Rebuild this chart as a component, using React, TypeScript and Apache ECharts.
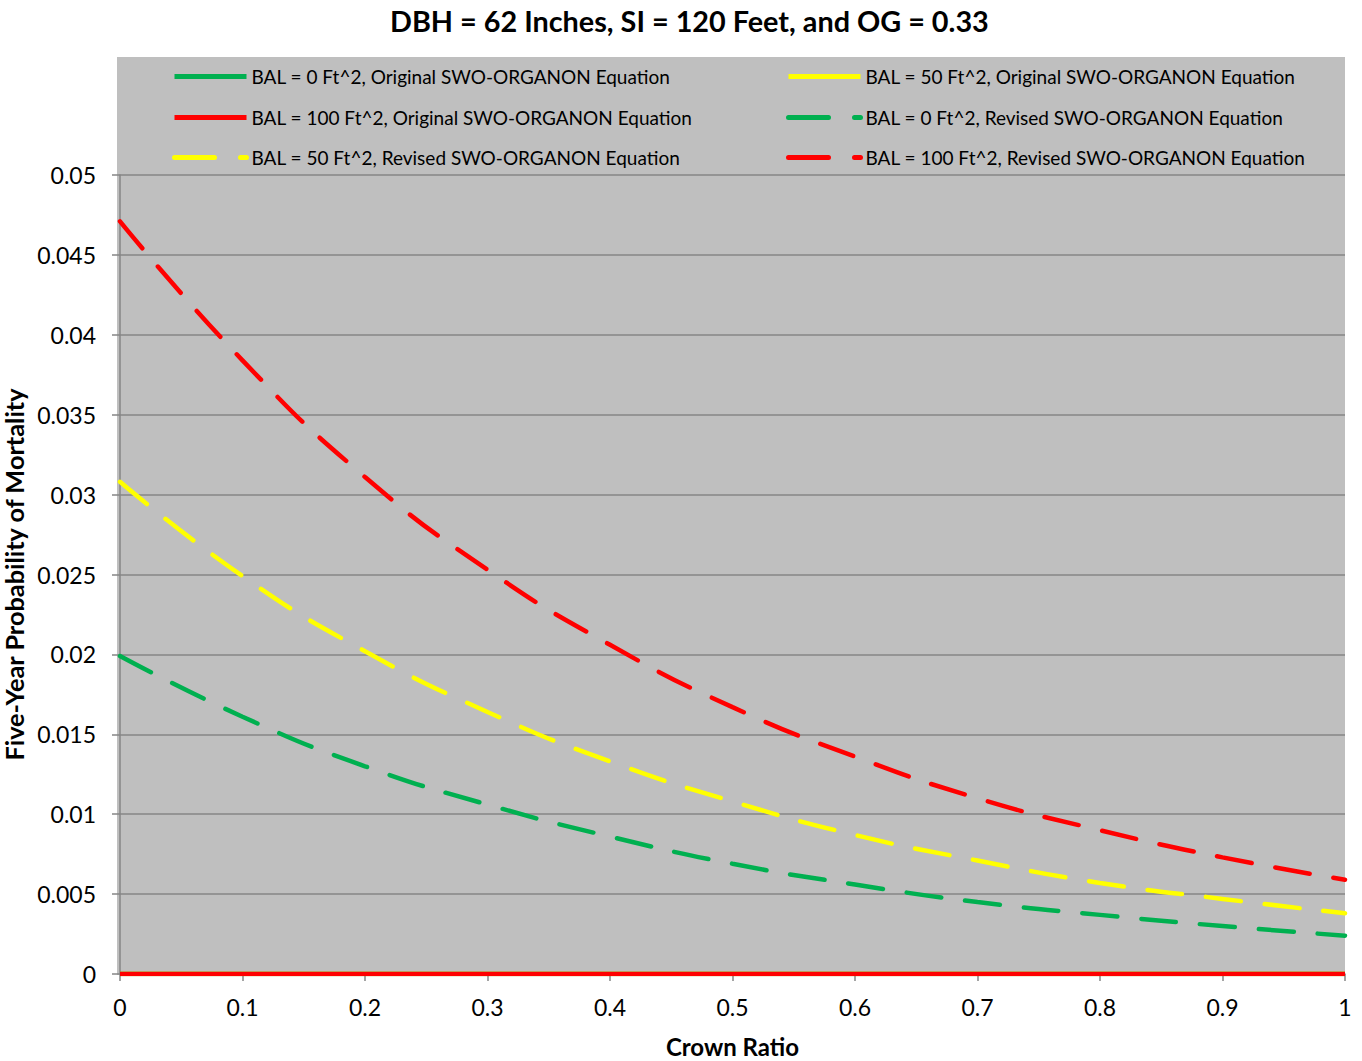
import React, { useEffect, useRef } from "react";
import * as echarts from "echarts";

const crownRatio = [0, 0.1, 0.2, 0.3, 0.4, 0.5, 0.6, 0.7, 0.8, 0.9, 1.0];

const originalBal0 = [0, 0, 0, 0, 0, 0, 0, 0, 0, 0, 0];
const originalBal50 = [0, 0, 0, 0, 0, 0, 0, 0, 0, 0, 0];
const originalBal100 = [0, 0, 0, 0, 0, 0, 0, 0, 0, 0, 0];

const revisedBal0 = [0.0199, 0.0161, 0.013, 0.0106, 0.0086, 0.0069, 0.0056, 0.0045, 0.0037, 0.003, 0.0024];
const revisedBal50 = [0.0308, 0.0249, 0.0202, 0.0164, 0.0133, 0.0108, 0.0087, 0.0071, 0.0057, 0.0047, 0.0038];
const revisedBal100 = [0.0471, 0.0384, 0.0311, 0.0253, 0.0206, 0.0167, 0.0136, 0.011, 0.009, 0.0073, 0.0059];

const seriesNames = [
  "BAL = 0 Ft^2, Original SWO-ORGANON Equation",
  "BAL = 50 Ft^2, Original SWO-ORGANON Equation",
  "BAL = 100 Ft^2, Original SWO-ORGANON Equation",
  "BAL = 0 Ft^2, Revised SWO-ORGANON Equation",
  "BAL = 50 Ft^2, Revised SWO-ORGANON Equation",
  "BAL = 100 Ft^2, Revised SWO-ORGANON Equation",
];

const GREEN = "#00B050";
const YELLOW = "#FFFF00";
const RED = "#FF0000";
const FONT = "Lato, 'Open Sans', sans-serif";

const pair = (ys: number[]) => crownRatio.map((x, i) => [x, ys[i]]);

export default function App() {
  const ref = useRef<HTMLDivElement>(null);
  useEffect(() => {
    if (!ref.current) return;
    const chart = echarts.init(ref.current, undefined, { renderer: "svg" });
    const dash = [35, 24];
    const mk = (name: string, data: number[], color: string, dashed: boolean, z: number) => ({
      name,
      type: "line",
      data: pair(data),
      smooth: true,
      symbol: "none",
      z,
      color,
      itemStyle: { color, opacity: 0 },
      lineStyle: {
        color,
        width: 4.5,
        type: dashed ? dash : "solid",
        cap: dashed ? "round" : "butt",
      },
    });
    // legend order: row by row, two columns
    const legendItems = [
      { idx: 0, left: 172, top: 67, dashed: false },
      { idx: 1, left: 786, top: 67, dashed: false },
      { idx: 2, left: 172, top: 108, dashed: false },
      { idx: 3, left: 786, top: 108, dashed: true },
      { idx: 4, left: 172, top: 148, dashed: true },
      { idx: 5, left: 786, top: 148, dashed: true },
    ];
    chart.setOption({
      animation: false,
      textStyle: { fontFamily: FONT },
      title: {
        text: "DBH = 62 Inches, SI = 120 Feet, and OG = 0.33",
        left: 385,
        top: 1,
        textStyle: { fontFamily: FONT, fontSize: 28.8, fontWeight: "bold", color: "#000" },
      },
      graphic: {
        elements: [
          {
            type: "rect",
            z: -10,
            silent: true,
            shape: { x: 117, y: 57, width: 1228, height: 918 },
            style: { fill: "#BFBFBF" },
          },
        ],
      },
      legend: legendItems.map((it) => ({
        data: [seriesNames[it.idx]],
        left: it.left,
        top: it.top,
        padding: 0,
        itemWidth: 72,
        itemHeight: 14,
        itemGap: 5,
        itemStyle: { opacity: 0 },
        lineStyle: it.dashed ? { width: 5, type: [40, 26], cap: "round" } : { width: 5 },
        textStyle: { fontFamily: FONT, fontSize: 19, color: "#000" },
      })),
      grid: { left: 120, right: 17, top: 175, bottom: 87, containLabel: false, outerBoundsMode: "none" },
      xAxis: {
        type: "value",
        min: 0,
        max: 1,
        interval: 0.1,
        name: "Crown Ratio",
        nameLocation: "middle",
        nameGap: 60,
        nameTextStyle: { fontFamily: FONT, fontSize: 24, fontWeight: "bold", color: "#000" },
        axisLine: { show: true, onZero: false, lineStyle: { color: "#868686", width: 1.5 } },
        axisTick: { show: true, length: 7, lineStyle: { color: "#868686", width: 1.5 } },
        axisLabel: { fontFamily: FONT, fontSize: 23, color: "#000", margin: 21 },
        splitLine: { show: false },
      },
      yAxis: {
        type: "value",
        min: 0,
        max: 0.05,
        interval: 0.005,
        name: "Five-Year Probability of Mortality",
        nameLocation: "middle",
        nameGap: 82,
        nameTextStyle: { fontFamily: FONT, fontSize: 25.3, fontWeight: "bold", color: "#000" },
        axisLine: { show: true, lineStyle: { color: "#868686", width: 1.5 } },
        axisTick: { show: true, length: 8, lineStyle: { color: "#868686", width: 1.5 } },
        axisLabel: { fontFamily: FONT, fontSize: 23, color: "#000", margin: 24 },
        splitLine: { show: true, lineStyle: { color: "#868686", width: 1.5 } },
      },
      series: [
        mk(seriesNames[3], revisedBal0, GREEN, true, 3),
        mk(seriesNames[4], revisedBal50, YELLOW, true, 4),
        mk(seriesNames[5], revisedBal100, RED, true, 5),
        mk(seriesNames[0], originalBal0, GREEN, false, 6),
        mk(seriesNames[1], originalBal50, YELLOW, false, 7),
        mk(seriesNames[2], originalBal100, RED, false, 8),
      ],
    });
    return () => chart.dispose();
  }, []);
  return (
    <div
      ref={ref}
      style={{ position: "absolute", left: 0, top: 0, width: 1362, height: 1061, background: "#fff" }}
    />
  );
}
